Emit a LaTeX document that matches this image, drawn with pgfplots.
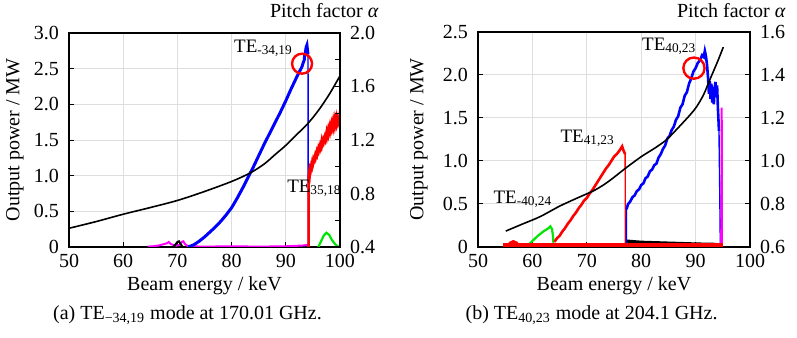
\documentclass[border=0pt]{standalone}
\usepackage{pgfplots}
\pgfplotsset{compat=1.18}
\usepackage{fontspec}
\setmainfont{Liberation Serif}
\definecolor{gridgray}{RGB}{222,222,222}
\definecolor{pblue}{RGB}{0,0,255}
\definecolor{pred}{RGB}{255,0,0}
\definecolor{pgreen}{RGB}{0,230,0}
\definecolor{pmag}{RGB}{255,0,255}
\newcommand{\tf}{\rmfamily\fontsize{10}{12}\selectfont}
\tikzset{TE/.style={font=\rmfamily\fontsize{9.5}{11}\selectfont, inner sep=0pt}}
\pgfplotsset{
  base/.style={scale only axis, xmin=50, xmax=100, tick align=inside,
    major tick length=2.5pt, axis line style={line width=0.6pt},
    every tick/.style={black, line width=0.5pt},
    /pgf/number format/assume math mode=true,
    tick label style={font=\tf},
    label style={font=\tf}},
  leftax/.style={base, xtick={50,60,70,80,90,100}, xticklabels={50,60,70,80,90,100},
    xtick pos=bottom, ytick pos=left,
    grid=major, grid style={gridgray, line width=0.5pt},
    yticklabel style={xshift=-1.5pt},
    xlabel={Beam energy / keV}, ylabel={Output power / MW},
    xlabel style={at={(axis description cs:0.5,0)}, anchor=base, yshift=-21.5pt}},
  rightax/.style={base, axis x line=none, axis y line*=right, ytick pos=right,
    yticklabel style={xshift=1.5pt}},
}
\begin{document}
\begin{tikzpicture}
\path[use as bounding box] (0,0) rectangle (398.5pt,168.5pt);
% ---------------- (a) ----------------
\begin{axis}[leftax, at={(34.5pt,45pt)}, anchor=south west, width=135.5pt, height=107pt,
  ymin=0, ymax=3, ytick={0,0.5,1,1.5,2,2.5,3}, yticklabels={0,0.5,1.0,1.5,2.0,2.5,3.0},
  ylabel style={at={(axis description cs:-0.2,0.5)}, anchor=center}]
\addplot[pmag, line width=1pt] coordinates {(64.5,0.005)(65.5,0.01)(66.5,0.02)(67.5,0.04)(68,0.05)(68.4,0.07)(68.8,0.04)(69.2,0.03)(69.8,0.02)(70.4,0.03)(70.8,0.07)(71.1,0.08)(71.4,0.04)(72,0.01)(75,0.005)(80,0.01)(85,0.005)(90,0.01)(93,0.02)(94.1,0.03)(94.2,0)};
\addplot[black, line width=1pt] coordinates {(69.2,0.0)(69.6,0.03)(70,0.07)(70.3,0.08)(70.6,0.04)(71,0.0)};
\addplot[pblue, line width=1.5pt] coordinates {(72,0.0)(73,0.03)(74,0.08)(75,0.14)(76,0.21)(77,0.28)(78,0.36)(79,0.45)(80,0.55)(81,0.68)(82,0.82)(83,0.97)(84,1.12)(85,1.28)(86,1.44)(87,1.59)(88,1.74)(89,1.89)(90,2.05)(91,2.22)(92,2.38)(92.6,2.47)(93,2.53)(93.2,2.58)(93.4,2.62)(93.5,2.70)(93.6,2.72)(93.75,2.8)(93.9,2.83)(94.0,2.76)(94.1,2.7)};
\addplot[pblue, line width=0.7pt] coordinates {(94.1,2.7)(94.15,0.0)};
\addplot[pred, line width=1.3pt] coordinates {(94.2,0)(94.2,0.97)(94.3,1.03)(94.4,1.0)(94.5,1.10)(94.6,1.08)(94.7,1.14)(94.8,1.12)(94.9,1.19)(95.0,1.17)(95.1,1.23)(95.2,1.21)(95.4,1.28)(95.5,1.25)(95.7,1.33)(95.8,1.30)(96.0,1.38)(96.1,1.35)(96.3,1.42)(96.4,1.39)(96.6,1.48)(96.7,1.43)(96.9,1.50)(97.0,1.47)(97.2,1.54)(97.3,1.51)(97.5,1.60)(97.6,1.55)(97.8,1.64)(97.9,1.59)(98.1,1.68)(98.2,1.63)(98.4,1.72)(98.5,1.67)(98.7,1.76)(98.8,1.69)(99.0,1.78)(99.1,1.71)(99.3,1.80)(99.4,1.73)(99.6,1.80)(99.7,1.74)(99.9,1.79)(100,1.76)};
\addplot[pgreen, line width=1.1pt] coordinates {(96,0)(96.5,0.08)(97,0.16)(97.5,0.2)(98,0.17)(98.5,0.1)(99,0.05)(99.5,0.01)(100,0)};
\addplot[pred, only marks, mark=o, mark size=5pt, line width=1.2pt] coordinates {(93.0,2.57)};
\node[TE, anchor=base west] at (axis cs:80.4,2.73) {TE\textsubscript{-34,19}};
\node[TE, anchor=base west] at (axis cs:90.2,0.77) {TE\textsubscript{35,18}};
\end{axis}
\begin{axis}[rightax, at={(34.5pt,45pt)}, anchor=south west, width=135.5pt, height=107pt,
  ymin=0.4, ymax=2.0, ytick={0.4,0.6,0.8,1.0,1.2,1.4,1.6,1.8,2.0},
  yticklabels={0.4,,0.8,,1.2,,1.6,,2.0}]
\addplot[black, line width=0.8pt, smooth] coordinates {(50,0.54)(55,0.59)(60,0.645)(65,0.695)(70,0.748)(75,0.815)(80,0.89)(83.4,0.953)(86,1.02)(88,1.09)(90,1.16)(92,1.24)(94,1.32)(96,1.42)(98,1.54)(100,1.68)};
\end{axis}
% ---------------- (b) ----------------
\begin{axis}[leftax, at={(239pt,45pt)}, anchor=south west, width=136pt, height=107.5pt,
  ymin=0, ymax=2.5, ytick={0,0.5,1,1.5,2,2.5}, yticklabels={0,0.5,1.0,1.5,2.0,2.5},
  ylabel style={at={(axis description cs:-0.217,0.5)}, anchor=center}]
\addplot[black, line width=1.6pt] coordinates {(77.2,0.07)(78,0.065)(80,0.055)(85,0.045)(90,0.035)(94,0.03)};
\addplot[pgreen, line width=1.1pt] coordinates {(59.2,0.02)(60,0.07)(61,0.13)(62,0.18)(63,0.22)(63.3,0.24)(63.6,0.21)(63.8,0.12)(63.9,0)};
\addplot[pred, line width=1.3pt] coordinates {(64.05,0.06)(64.5,0.10)(65,0.13)(65.5,0.18)(66,0.22)(66.5,0.27)(67,0.31)(67.5,0.36)(68,0.40)(68.5,0.45)(69,0.49)(69.5,0.54)(70,0.57)(70.5,0.62)(71,0.66)(71.5,0.71)(72,0.76)(72.5,0.81)(73,0.86)(73.5,0.91)(74,0.95)(74.5,1.0)(75,1.05)(75.5,1.08)(76,1.12)(76.3,1.15)(76.5,1.17)(76.7,1.13)(76.9,1.10)(77.05,1.08)};
\addplot[pred, line width=0.7pt] coordinates {(77.05,1.08)(77.1,0)};
\addplot[pblue, line width=1.3pt] coordinates {(77.3,0.44)(77.6,0.50)(78,0.53)(78.4,0.58)(78.8,0.60)(79.2,0.65)(79.6,0.67)(80,0.72)(80.4,0.74)(80.8,0.80)(81.2,0.82)(81.6,0.88)(82,0.90)(82.4,0.95)(82.8,0.97)(83.2,1.04)(83.6,1.08)(84,1.14)(84.4,1.18)(84.8,1.26)(85.2,1.29)(85.6,1.36)(86,1.40)(86.4,1.48)(86.8,1.52)(87.2,1.62)(87.6,1.66)(88,1.76)(88.4,1.80)(88.8,1.90)(89.2,1.96)(89.6,2.04)(90,2.08)(90.4,2.14)(90.8,2.17)(91.2,2.23)(91.5,2.21)(91.7,2.28)(91.9,2.22)(92.1,2.12)(92.3,1.96)(92.45,1.78)(92.6,1.93)(92.75,1.72)(92.9,1.9)(93.05,1.68)(93.2,1.86)(93.35,1.66)(93.5,1.84)(93.65,1.92)(93.8,1.74)(93.95,1.88)(94.1,1.62)(94.3,1.35)};
\addplot[pblue, line width=0.7pt] coordinates {(77.25,0)(77.3,0.44)};
\addplot[pblue, line width=0.7pt] coordinates {(94.3,1.35)(94.45,0.6)(94.55,0)};
\addplot[pmag, line width=1pt] coordinates {(94.7,0.02)(94.78,1.0)(94.8,1.62)(94.82,1.2)(94.85,0.02)};
\addplot[pred, line width=2pt] coordinates {(54.6,0.02)(95,0.02)};
\addplot[pred, line width=2.5pt] coordinates {(55.8,0.03)(56.5,0.05)(57.2,0.03)};
\addplot[pred, only marks, mark=o, mark size=5.3pt, line width=1.2pt] coordinates {(89.7,2.08)};
\node[TE, anchor=base west] at (axis cs:80.1,2.29) {TE\textsubscript{40,23}};
\node[TE, anchor=base west] at (axis cs:65.1,1.22) {TE\textsubscript{41,23}};
\node[TE, anchor=base west] at (axis cs:52.8,0.51) {TE\textsubscript{-40,24}};
\end{axis}
\begin{axis}[rightax, at={(239pt,45pt)}, anchor=south west, width=136pt, height=107.5pt,
  ymin=0.6, ymax=1.6, ytick={0.6,0.8,1.0,1.2,1.4,1.6},
  yticklabels={0.6,0.8,1.0,1.2,1.4,1.6}]
\addplot[black, line width=0.8pt, smooth] coordinates {(55.1,0.674)(58,0.705)(61.4,0.741)(65,0.79)(68,0.825)(71.5,0.865)(74,0.905)(77.1,0.966)(80,1.02)(82.5,1.06)(84.7,1.10)(87,1.16)(89,1.215)(90.2,1.253)(91.5,1.31)(92.6,1.377)(94,1.46)(95.1,1.53)};
\end{axis}
% ---------------- texts ----------------
\node[anchor=base east, font=\tf, inner sep=0pt] at (189.5pt,159.5pt) {Pitch factor \textit{α}};
\node[anchor=base east, font=\tf, inner sep=0pt] at (393pt,159.5pt) {Pitch factor \textit{α}};
\node[anchor=base, font=\tf, inner sep=0pt] at (93.75pt,9pt) {(a) TE\textsubscript{−34,19} mode at 170.01 GHz.};
\node[anchor=base, font=\tf, inner sep=0pt] at (295.8pt,9pt) {(b) TE\textsubscript{40,23} mode at 204.1 GHz.};
\end{tikzpicture}
\end{document}
